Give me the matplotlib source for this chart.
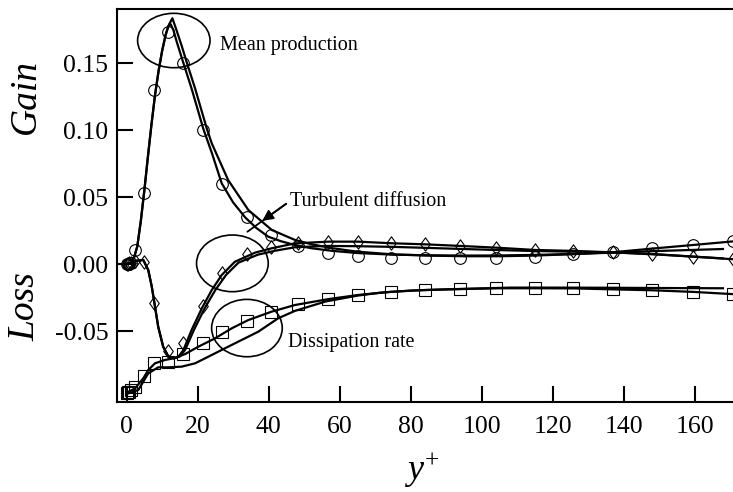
import matplotlib
matplotlib.use("Agg")
import matplotlib.pyplot as plt
from matplotlib.patches import Ellipse
from matplotlib.path import Path
from matplotlib.ticker import FormatStrFormatter

plt.rcParams['font.family'] = ['Liberation Serif', 'DejaVu Serif']
plt.rcParams['mathtext.fontset'] = 'custom'
plt.rcParams['mathtext.it'] = 'Liberation Serif:italic'
plt.rcParams['mathtext.rm'] = 'Liberation Serif'
plt.rcParams['axes.unicode_minus'] = False

# ---- symbols (reference data) ----
yp_sym = [0.0, 0.3, 0.7, 1.2, 2.5, 4.9, 7.8, 11.8, 16.0, 21.6, 27.0, 33.8, 40.8,
          48.3, 56.8, 65.2, 74.6, 84.0, 94.0, 104.2, 115.0, 125.8, 137.0, 148.1,
          159.6, 170.8]
prod_sym = [0.0, 0.0, 0.0003, 0.0008, 0.0104, 0.0527, 0.130, 0.173, 0.150, 0.100,
            0.060, 0.035, 0.0216, 0.0134, 0.0085, 0.0060, 0.0047, 0.0047, 0.0047,
            0.0047, 0.0055, 0.0075, 0.0087, 0.0117, 0.0142, 0.0170]
diff_sym = [0.0, 0.0003, 0.0006, 0.0010, 0.0025, 0.0017, -0.029, -0.065, -0.059,
            -0.031, -0.0065, 0.0075, 0.0130, 0.0154, 0.0167, 0.0167, 0.0154, 0.0147,
            0.0134, 0.0122, 0.0104, 0.0099, 0.0087, 0.0075, 0.0055, 0.0035]
diss_sym = [-0.0960, -0.0957, -0.0953, -0.0940, -0.0915, -0.0836, -0.0736, -0.0729,
            -0.0674, -0.0592, -0.0505, -0.0423, -0.0356, -0.0300, -0.0264, -0.0231,
            -0.0207, -0.0194, -0.0189, -0.0181, -0.0181, -0.0181, -0.0189, -0.0194,
            -0.0207, -0.0226]

# ---- model 1 (profiles ending at y+ = 168) ----
prod1_y = [0, 1, 2, 3, 4, 5, 6, 7, 8, 9, 10, 11, 11.7, 12.4, 13.2, 14.1, 16, 18.3,
           21.6, 24, 26.8, 30, 33.4, 36.5, 39.9, 43.5, 47.4, 52, 58, 65, 75, 85, 95,
           105, 115, 126, 137, 148, 158, 168]
prod1_v = [0, 0.0008, 0.004, 0.013, 0.032, 0.055, 0.080, 0.104, 0.126, 0.144, 0.159,
           0.171, 0.1775, 0.1790, 0.1745, 0.166, 0.150, 0.131, 0.101, 0.083, 0.0602,
           0.046, 0.0348, 0.027, 0.0204, 0.0170, 0.0142, 0.0118, 0.0098, 0.0082,
           0.0070, 0.0065, 0.0063, 0.0064, 0.0068, 0.0075, 0.0085, 0.0096, 0.0104,
           0.0112]
diff1_y = [0, 1, 2, 3, 4.7, 6.1, 7.1, 8, 8.9, 10.3, 11.7, 13.4, 15, 16.5, 19, 22, 25,
           28, 31.5, 37, 42, 47.4, 56, 65, 75, 85, 95, 105, 115, 126, 137, 150, 160,
           168]
diff1_v = [0, 0.0005, 0.0015, 0.0025, 0.003, -0.0045, -0.017, -0.0318, -0.0468,
           -0.0617, -0.0687, -0.0704, -0.069, -0.064, -0.049, -0.033, -0.0194,
           -0.0082, 0.0010, 0.0070, 0.0100, 0.0125, 0.0135, 0.0133, 0.0128, 0.0120,
           0.0112, 0.0104, 0.0097, 0.0092, 0.0087, 0.0070, 0.0055, 0.0042]
diss1_y = [0, 3.3, 6.1, 8.9, 11.7, 15.5, 19.3, 23, 27.7, 32.4, 37.1, 42.7, 47.4, 56,
           65, 71.4, 80, 90.2, 100, 108, 120, 135, 150, 168]
diss1_v = [-0.097, -0.094, -0.0816, -0.0771, -0.0771, -0.0766, -0.0741, -0.0692,
           -0.0629, -0.0567, -0.0505, -0.0405, -0.0350, -0.0280, -0.0236, -0.0214,
           -0.0198, -0.0189, -0.0182, -0.0176, -0.0176, -0.0177, -0.0179, -0.0181]

# ---- model 2 (profiles running past the plotted range) ----
prod2_y = [0, 1, 2, 3, 4, 5, 6, 7, 8, 9, 10, 11, 12, 12.9, 14, 15.5, 17, 19.3, 22.6,
           24, 28.6, 34.3, 40.9, 47.4, 52, 58, 65, 75, 85, 95, 105, 115, 126, 137,
           148, 160, 173]
prod2_v = [0, 0.0008, 0.004, 0.013, 0.032, 0.055, 0.080, 0.104, 0.126, 0.144, 0.159,
           0.171, 0.179, 0.1834, 0.175, 0.163, 0.150, 0.131, 0.101, 0.090, 0.0627,
           0.0403, 0.0254, 0.0180, 0.0148, 0.0118, 0.0092, 0.0072, 0.0063, 0.0058,
           0.0058, 0.0063, 0.0074, 0.0088, 0.0115, 0.0143, 0.0174]
diff2_y = [0, 1, 2, 3, 4.7, 6.1, 7.1, 8, 8.9, 10.3, 11.7, 13.2, 14.6, 16, 18.3, 21.2,
           24, 26.8, 30.5, 36.2, 40.8, 47.4, 56.8, 65.2, 74.6, 84, 94, 104.2, 115,
           125.8, 137, 148.1, 159.6, 173]
diff2_v = [0, 0.0005, 0.0015, 0.0025, 0.003, -0.0045, -0.017, -0.0318, -0.0468,
           -0.0617, -0.0687, -0.0704, -0.0692, -0.0642, -0.0493, -0.033, -0.0194,
           -0.0082, 0.0017, 0.0085, 0.0117, 0.0154, 0.0167, 0.0167, 0.0155, 0.0147,
           0.0135, 0.0122, 0.0105, 0.0098, 0.0087, 0.0075, 0.0055, 0.0032]
diss2_y = [0, 2.4, 4.7, 6.1, 8, 10.8, 13.2, 16.5, 20.2, 24.9, 29.6, 34.3, 40.8, 47.4,
           56.8, 65.2, 74.6, 84, 94, 104.2, 115, 125.8, 137, 148.1, 159.6, 173]
diss2_v = [-0.096, -0.0928, -0.0853, -0.0791, -0.0741, -0.0716, -0.0704, -0.0672,
           -0.0617, -0.0555, -0.048, -0.0418, -0.0356, -0.0306, -0.0262, -0.0231,
           -0.0207, -0.0194, -0.0187, -0.0181, -0.0181, -0.0182, -0.0189, -0.0196,
           -0.0208, -0.0228]

x_ticks = [0, 20, 40, 60, 80, 100, 120, 140, 160]
y_ticks = [-0.05, 0.00, 0.05, 0.10, 0.15]

fig = plt.figure(figsize=(7.33, 4.92), dpi=100)
ax = fig.add_axes([116.7 / 733, 1 - 402.3 / 492, (740 - 116.7) / 733, (402.3 - 9.3) / 492])

lw = 1.6
for yy, vv in [(prod1_y, prod1_v), (prod2_y, prod2_v), (diff1_y, diff1_v),
               (diff2_y, diff2_v), (diss1_y, diss1_v), (diss2_y, diss2_v)]:
    ax.plot(yy, vv, color='black', lw=lw, solid_joinstyle='round', zorder=3)

# slightly narrow diamond symbol
diamond = Path([(0, 1), (0.72, 0), (0, -1), (-0.72, 0), (0, 1)],
               [Path.MOVETO, Path.LINETO, Path.LINETO, Path.LINETO, Path.CLOSEPOLY])

mk = dict(linestyle='none', markerfacecolor='none', markeredgecolor='black',
          markeredgewidth=0.8, zorder=4)
ax.plot(yp_sym, prod_sym, marker='o', markersize=8.4, **mk)
ax.plot(yp_sym, diff_sym, marker=diamond, markersize=9.6, **mk)
ax.plot(yp_sym, diss_sym, marker='s', markersize=8.4, **mk)

# annotation ellipses
for cx, cy, w, h in [(13.3, 0.1668, 20.4, 0.0406),
                     (29.8, 0.0005, 20.2, 0.0423),
                     (33.9, -0.0478, 19.9, 0.0428)]:
    ax.add_patch(Ellipse((cx, cy), w, h, fill=False, edgecolor='black', lw=1.2,
                         zorder=5))

ax.text(26.3, 0.1630, 'Mean production', fontsize=14.5, va='center', ha='left')
ax.text(46.0, 0.0465, 'Turbulent diffusion', fontsize=14.5, va='center', ha='left')
ax.text(45.5, -0.0587, 'Dissipation rate', fontsize=14.5, va='center', ha='left')

# arrow pointing at the diffusion curves
ax.annotate('', xy=(33.4, 0.0229), xytext=(45.6, 0.0462),
            arrowprops=dict(arrowstyle='-', lw=1.3, color='black'), zorder=6)
ax.annotate('', xy=(37.6, 0.0310), xytext=(45.6, 0.0462),
            arrowprops=dict(arrowstyle='-|>', lw=1.3, color='black',
                            mutation_scale=16), zorder=6)

ax.set_xlim(-2.79, 172.8)
ax.set_ylim(-0.1032, 0.1901)
ax.set_xticks(x_ticks)
ax.set_yticks(y_ticks)
ax.yaxis.set_major_formatter(FormatStrFormatter('%.2f'))
ax.tick_params(direction='in', length=11.5, width=1.5, labelsize=18.5,
               top=False, right=False)
ax.tick_params(axis='x', pad=10)
ax.tick_params(axis='y', pad=6)
for s in ['left', 'bottom', 'top', 'right']:
    ax.spines[s].set_linewidth(1.5)

fig.text(25.5 / 733, 1 - 97 / 492, 'Gain', rotation=90, fontsize=27,
         style='italic', ha='center', va='center')
fig.text(25.5 / 733, 1 - 306.5 / 492, 'Loss', rotation=90, fontsize=27,
         style='italic', ha='center', va='center')
fig.text(422 / 733, 1 - 470 / 492, r'$y^{+}$', fontsize=26, ha='center',
         va='center')

fig.savefig('out.png', dpi=100)
